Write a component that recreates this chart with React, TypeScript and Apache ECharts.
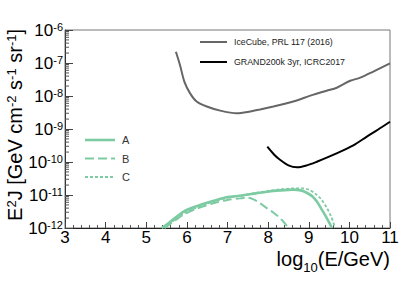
import React, { useEffect, useRef } from "react";
import * as echarts from "echarts";

const FONT = "'Liberation Sans', Arial, Helvetica, sans-serif";

// x = log10(E/GeV), y = E^2 J [GeV cm^-2 s^-1 sr^-1]
const iceCubeX = [5.73, 5.83, 5.94, 6.08, 6.24, 6.49, 6.82, 7.23, 7.56, 7.8, 8.13, 8.46, 8.62, 9.12, 9.44, 9.69, 10.02, 10.27, 10.6, 11.0];
const iceCubeY = [2.19e-7, 8.7e-8, 2.69e-8, 1.2e-8, 6.8e-9, 4.8e-9, 3.6e-9, 3.0e-9, 3.4e-9, 3.9e-9, 4.8e-9, 6.0e-9, 6.8e-9, 1.1e-8, 1.45e-8, 1.78e-8, 2.9e-8, 3.6e-8, 5.6e-8, 9.8e-8];

const grandX = [7.98, 8.15, 8.3, 8.5, 8.71, 8.95, 9.2, 9.5, 9.86, 10.15, 10.43, 10.7, 11.0];
const grandY = [2.9e-10, 1.66e-10, 1.15e-10, 7.9e-11, 6.9e-11, 7.9e-11, 1.02e-10, 1.45e-10, 2.3e-10, 3.5e-10, 5.9e-10, 9.5e-10, 1.66e-9];

const aX = [5.38, 5.6, 5.91, 6.2, 6.65, 7.0, 7.31, 7.7, 7.97, 8.3, 8.62, 8.8, 8.95, 9.1, 9.2, 9.3, 9.4, 9.5, 9.57];
const aY = [1e-12, 1.58e-12, 3.1e-12, 4.4e-12, 6.6e-12, 8.7e-12, 9.5e-12, 1.12e-11, 1.26e-11, 1.38e-11, 1.45e-11, 1.38e-11, 1.17e-11, 8.9e-12, 6.3e-12, 4.0e-12, 2.5e-12, 1.48e-12, 1e-12];

const bX = [5.45, 5.7, 5.91, 6.2, 6.65, 7.0, 7.31, 7.5, 7.64, 7.8, 7.97, 8.15, 8.34, 8.5];
const bY = [1e-12, 1.66e-12, 2.5e-12, 3.7e-12, 5.6e-12, 7.1e-12, 7.9e-12, 8.3e-12, 7.4e-12, 5.6e-12, 4.0e-12, 2.8e-12, 1.74e-12, 1e-12];

const cX = [5.45, 5.7, 5.91, 6.2, 6.65, 7.0, 7.31, 7.7, 8.0, 8.3, 8.62, 8.85, 9.0, 9.15, 9.3, 9.45, 9.55, 9.65];
const cY = [1e-12, 1.78e-12, 2.75e-12, 4.0e-12, 6.3e-12, 8.3e-12, 9.5e-12, 1.15e-11, 1.32e-11, 1.48e-11, 1.58e-11, 1.58e-11, 1.45e-11, 1.12e-11, 7.6e-12, 4.0e-12, 2.24e-12, 1e-12];

const xMin = 3;
const xMax = 11;
const yMin = 1e-12;
const yMax = 1e-6;
const decadeExponents = [-12, -11, -10, -9, -8, -7];
const minorMultipliers = [2, 3, 4, 5, 6, 7, 8, 9];

const legendTop = ["IceCube, PRL 117 (2016)", "GRAND200k 3yr, ICRC2017"];
const legendBottom = ["A", "B", "C"];

const GREEN = "#7ccba2";

const zip = (xs: number[], ys: number[]) => xs.map((x, i) => [x, ys[i]]);

export default function App() {
  const ref = useRef<HTMLDivElement>(null);
  useEffect(() => {
    if (!ref.current) return;
    const chart = echarts.init(ref.current, undefined, { renderer: "svg" });
    const minorTicks: number[][] = [];
    decadeExponents.forEach((e) => minorMultipliers.forEach((m) => minorTicks.push([xMin, m * Math.pow(10, e)])));

    const lineSeries = (name: string, xs: number[], ys: number[], color: string, width: number, type: any) => ({
      name,
      type: "line",
      data: zip(xs, ys),
      showSymbol: false,
      symbol: "none",
      smooth: 0.3,
      lineStyle: { color, width, type },
      silent: true,
      z: 3,
    });

    chart.setOption({
      animation: false,
      grid: { left: 65, top: 30, right: 25, bottom: 53, show: true, borderColor: "#777", borderWidth: 1 },
      xAxis: {
        type: "value",
        min: xMin,
        max: xMax,
        interval: 1,
        splitLine: { show: false },
        axisLine: { lineStyle: { color: "#222", width: 1 } },
        axisTick: { inside: true, length: 6, lineStyle: { color: "#444" } },
        minorTick: { show: true, splitNumber: 5, length: 3, lineStyle: { color: "#555" } },
        axisLabel: { margin: 1, fontSize: 17, lineHeight: 17, color: "#000", fontFamily: FONT, showMinLabel: true, showMaxLabel: true },
      },
      yAxis: {
        type: "log",
        logBase: 10,
        min: yMin,
        max: yMax,
        splitNumber: 6,
        splitLine: { show: false },
        axisLine: { lineStyle: { color: "#333", width: 1 } },
        axisTick: { inside: true, length: 8, lineStyle: { color: "#444" } },
        axisLabel: {
          margin: 2,
          formatter: (v: number) => `{b|10}{s|${Math.round(Math.log10(v))}}`,
          rich: {
            b: { fontSize: 17, lineHeight: 17, verticalAlign: "bottom", fontFamily: FONT, color: "#000" },
            s: { fontSize: 11, lineHeight: 11, verticalAlign: "top", padding: [0, 0, 13, 0], fontFamily: FONT, color: "#000" },
          },
        },
      },
      series: [
        lineSeries(legendTop[0], iceCubeX, iceCubeY, "#666", 2, "solid"),
        lineSeries(legendTop[1], grandX, grandY, "#000", 2, "solid"),
        lineSeries(legendBottom[1], bX, bY, GREEN, 2, [9, 4]),
        lineSeries(legendBottom[2], cX, cY, GREEN, 1.8, [3, 2]),
        lineSeries(legendBottom[0], aX, aY, GREEN, 2.6, "solid"),
        {
          type: "custom",
          data: minorTicks,
          silent: true,
          clip: false,
          z: 4,
          renderItem: (_p: any, api: any) => {
            const pt = api.coord([api.value(0), api.value(1)]);
            return {
              type: "line",
              shape: { x1: pt[0], y1: pt[1], x2: pt[0] + 4, y2: pt[1] },
              style: { stroke: "#555", lineWidth: 1 },
            };
          },
        },
      ],
      graphic: [
        // top-right legend
        { type: "line", shape: { x1: 200, y1: 42, x2: 227, y2: 42 }, style: { stroke: "#666", lineWidth: 2 } },
        { type: "text", x: 234, y: 42, style: { text: legendTop[0], fontSize: 8.8, fontFamily: FONT, fill: "#222", verticalAlign: "middle" } },
        { type: "line", shape: { x1: 200, y1: 62, x2: 227, y2: 62 }, style: { stroke: "#000", lineWidth: 2 } },
        { type: "text", x: 234, y: 62, style: { text: legendTop[1], fontSize: 8.8, fontFamily: FONT, fill: "#222", verticalAlign: "middle" } },
        // lower-left legend
        { type: "line", shape: { x1: 85, y1: 140, x2: 115, y2: 140 }, style: { stroke: GREEN, lineWidth: 2.6 } },
        { type: "text", x: 122, y: 140, style: { text: legendBottom[0], fontSize: 11, fontFamily: FONT, fill: "#333", verticalAlign: "middle" } },
        { type: "line", shape: { x1: 85, y1: 158.5, x2: 115, y2: 158.5 }, style: { stroke: GREEN, lineWidth: 2, lineDash: [9, 4] } },
        { type: "text", x: 122, y: 158.5, style: { text: legendBottom[1], fontSize: 11, fontFamily: FONT, fill: "#333", verticalAlign: "middle" } },
        { type: "line", shape: { x1: 85, y1: 177, x2: 115, y2: 177 }, style: { stroke: GREEN, lineWidth: 1.8, lineDash: [3, 2] } },
        { type: "text", x: 122, y: 177, style: { text: legendBottom[2], fontSize: 11, fontFamily: FONT, fill: "#333", verticalAlign: "middle" } },
        // x axis title
        {
          type: "text",
          x: 390,
          y: 249,
          style: {
            text: "{m|log}{u|10}{m|(E/GeV)}",
            align: "right",
            verticalAlign: "top",
            rich: {
              m: { fontSize: 20, lineHeight: 14, verticalAlign: "top", fontFamily: FONT, fill: "#000" },
              u: { fontSize: 13, lineHeight: 13, verticalAlign: "top", padding: [12, 0, 0, 0], fontFamily: FONT, fill: "#000" },
            },
          },
        },
        // y axis title
        {
          type: "text",
          x: 5,
          y: 29,
          rotation: Math.PI / 2,
          style: {
            text: "{a|E}{s|2}{a|J [GeV cm}{s|-2}{a| s}{s|-1}{a| sr}{s|-1}{a|]}",
            align: "right",
            verticalAlign: "top",
            rich: {
              a: { fontSize: 20, lineHeight: 20, verticalAlign: "bottom", fontFamily: FONT, fill: "#000" },
              s: { fontSize: 13, lineHeight: 13, verticalAlign: "top", padding: [0, 0, 10, 0], fontFamily: FONT, fill: "#000" },
            },
          },
        },
      ],
    });
    return () => chart.dispose();
  }, []);
  return <div ref={ref} style={{ position: "absolute", left: 0, top: 0, width: 415, height: 281 }} />;
}
